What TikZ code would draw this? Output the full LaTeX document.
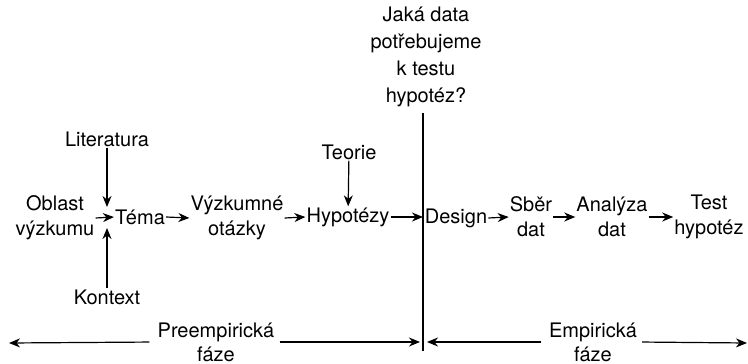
\documentclass[tikz,border=0pt]{standalone}
\usepackage{fontspec}
\setmainfont{TeX Gyre Heros}
\usetikzlibrary{arrows.meta}
\begin{document}
\begin{tikzpicture}[x=1pt,y=-1pt,
  lbl/.style={inner sep=1pt,align=center,font=\fontsize{20}{25}\selectfont},
  arr/.style={line width=1.2pt,-{Stealth[length=11pt,width=9pt,inset=3.5pt]}},
  divider/.style={line width=1.6pt}]
\useasboundingbox (0,0) rectangle (748,364);
% nodes
\node[lbl] (lit) at (107,139) {Literatura};
\node[lbl] (obl) at (55,218) {Oblast\\výzkumu};
\node[lbl] (tema) at (140,217) {Téma};
\node[lbl] (kon) at (107,297) {Kontext};
\node[lbl] (vyz) at (237,218) {Výzkumné\\otázky};
\node[lbl] (teo) at (349,152) {Teorie};
\node[lbl] (hyp) at (348,217) {Hypotézy};
\node[lbl,font=\fontsize{20}{27}\selectfont] (q) at (426,57) {Jaká data\\potřebujeme\\k testu\\hypotéz?};
\node[lbl] (des) at (456,218) {Design};
\node[lbl] (sber) at (531,217) {Sběr\\dat};
\node[lbl] (ana) at (612,217) {Analýza\\dat};
\node[lbl] (test) at (709,217) {Test\\hypotéz};
\node[lbl,font=\fontsize{20}{24}\selectfont] (pre) at (216,342) {Preempirická\\fáze};
\node[lbl,font=\fontsize{20}{24}\selectfont] (emp) at (593,342) {Empirická\\fáze};
% coordinates
\coordinate (top) at (423,113);
\coordinate (bot) at (423,351);
\coordinate (jt) at (107,207);
\coordinate (jb) at (107,228);
\coordinate (L) at (9,343);
\coordinate (R) at (747,343);
% divider
\draw[divider] (top) -- (bot);
% connectors
\draw[arr] (lit) -- (jt);
\draw[arr] (kon) -- (jb);
\draw[arr] (obl.east) -- (tema.west);
\draw[arr] (tema.east) -- (vyz.west);
\draw[arr] (vyz.east) -- (hyp.west);
\draw[arr] (teo) -- (hyp);
\draw[arr] (hyp.east) -- (hyp.east -| top);
\draw[arr] (des.east) -- (sber.west);
\draw[arr] (sber.east) -- (ana.west);
\draw[arr] (ana.east) -- (test.west);
\draw[arr,shorten <=7pt] (pre.west) -- (L);
\draw[arr,shorten <=4pt,shorten >=3pt] (pre.east) -- (pre.east -| bot);
\draw[arr,shorten <=7pt,shorten >=4pt] (emp.west) -- (emp.west -| bot);
\draw[arr,shorten <=4pt] (emp.east) -- (R);
\end{tikzpicture}
\end{document}
